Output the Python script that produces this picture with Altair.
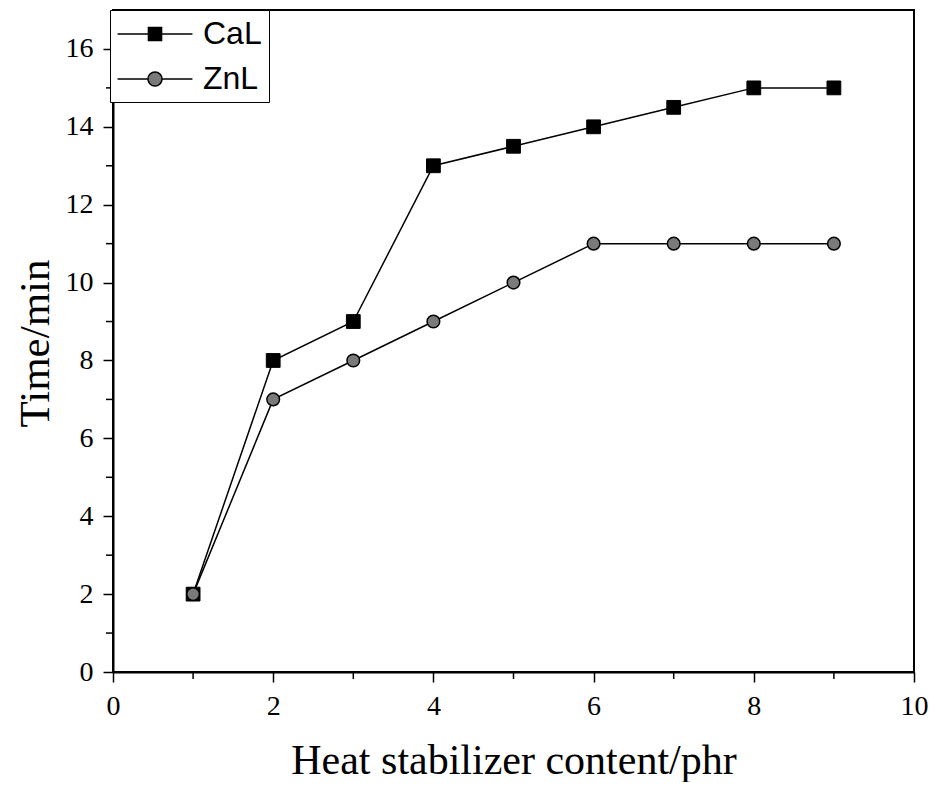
import altair as alt
import pandas as pd

# ---- data ----
x_vals = [1, 2, 3, 4, 5, 6, 7, 8, 9]
cal_vals = [2, 8, 9, 13, 13.5, 14, 14.5, 15, 15]
znl_vals = [2, 7, 8, 9, 10, 11, 11, 11, 11]
series_names = ["CaL", "ZnL"]
x_major = [0, 2, 4, 6, 8, 10]
x_minor = [1, 3, 5, 7, 9]
y_major = [0, 2, 4, 6, 8, 10, 12, 14, 16]
y_minor = [1, 3, 5, 7, 9, 11, 13, 15]

df = pd.DataFrame({
    "x": x_vals * 2,
    "y": cal_vals + znl_vals,
    "series": ["CaL"] * len(x_vals) + ["ZnL"] * len(x_vals),
})

W, H = 801, 662
ZN_FILL = "#7a7a7a"

xs = alt.Scale(domain=[0, 10], nice=False, zero=False)
ys = alt.Scale(domain=[0, 17], nice=False, zero=False)

xaxis = alt.Axis(
    values=x_major, format="d", grid=False,
    title="Heat stabilizer content/phr",
    titleFont="Liberation Serif", titleFontSize=42, titleFontWeight="normal",
    titleColor="black", titleBaseline="alphabetic", titleY=101,
    labelFont="Liberation Serif", labelFontSize=28, labelColor="black",
    labelFlush=False, labelOverlap=False, labelPadding=10,
    tickSize=10, tickWidth=1.5, tickColor="black",
    domainColor="black", domainWidth=2,
)
yaxis = alt.Axis(
    values=y_major, format="d", grid=False,
    title="Time/min",
    titleFont="Liberation Serif", titleFontSize=43, titleFontWeight="normal",
    titleColor="black", titleAngle=270, titleBaseline="alphabetic",
    titleAlign="center", titleX=-65, titleY=333,
    labelFont="Liberation Serif", labelFontSize=28, labelColor="black",
    labelFlush=False, labelOverlap=False, labelPadding=10,
    tickSize=10, tickWidth=1.5, tickColor="black",
    domainColor="black", domainWidth=2,
)

X = alt.X("x:Q", scale=xs, axis=xaxis)
Y = alt.Y("y:Q", scale=ys, axis=yaxis)

base = alt.Chart(df)

lines = base.mark_line(color="black", strokeWidth=1.5).encode(
    x=X, y=Y, detail="series:N",
)

cal_pts = base.transform_filter(alt.datum.series == "CaL").mark_point(
    shape="square", filled=True, fill="black", stroke="black",
    strokeWidth=1, size=190, opacity=1,
).encode(x=X, y=Y)

znl_pts = base.transform_filter(alt.datum.series == "ZnL").mark_point(
    shape="circle", filled=True, fill=ZN_FILL, stroke="black",
    strokeWidth=1.5, size=160, opacity=1,
).encode(x=X, y=Y)

# legend symbols: line + marker, as custom paths
sq_path = "M-2.34,0H-0.41M0.41,0H2.34M-0.41,-0.41H0.41V0.41H-0.41Z"
ci_path = ("M-2.34,0H-0.44M0.44,0H2.34M0.44,0A0.44,0.44,0,1,1,-0.44,0"
           "A0.44,0.44,0,1,1,0.44,0Z")

leg = alt.Legend(
    title=None, orient="none", legendX=-3, legendY=0,
    strokeColor="black", fillColor="white", padding=7,
    labelFont="Liberation Sans", labelFontSize=32, labelColor="black",
    labelOffset=31, symbolOffset=21, symbolSize=1024,
    symbolStrokeColor="black", symbolStrokeWidth=1.5, symbolOpacity=1,
    rowPadding=12,
)

legend_layer = base.transform_filter("false").mark_point(
    filled=False, strokeWidth=1.5, size=1024, opacity=1,
).encode(
    x=X, y=Y,
    fill=alt.Fill("series:N", scale=alt.Scale(domain=series_names, range=["black", ZN_FILL]), legend=leg),
    stroke=alt.Stroke("series:N", scale=alt.Scale(domain=series_names, range=["black", "black"]), legend=leg),
    shape=alt.Shape("series:N", scale=alt.Scale(domain=series_names, range=[sq_path, ci_path]), legend=leg),
)

xminor = alt.Chart(pd.DataFrame({"x": x_minor})).mark_rule(
    color="black", strokeWidth=1.5
).encode(x=X, y=alt.value(H), y2=alt.value(H + 7))

yminor = alt.Chart(pd.DataFrame({"y": y_minor})).mark_rule(
    color="black", strokeWidth=1.5
).encode(y=Y, x=alt.value(0), x2=alt.value(-7))

chart = alt.layer(lines, xminor, yminor, cal_pts, znl_pts, legend_layer).properties(
    width=W, height=H,
    autosize=alt.AutoSizeParams(type="none"),
    padding={"left": 105, "top": 2, "right": 15, "bottom": 110},
).configure(background="white").configure_view(
    stroke="black", strokeWidth=2
).configure_legend(strokeWidth=1)

chart.save("out.html", embed_options={"renderer": "svg", "actions": False})
